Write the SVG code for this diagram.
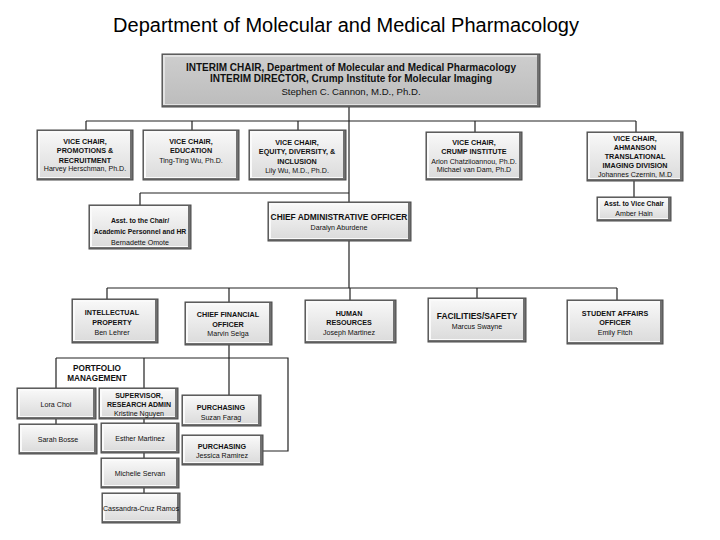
<svg xmlns="http://www.w3.org/2000/svg" width="720" height="540" viewBox="0 0 720 540">
<defs>
<linearGradient id="face" x1="0" y1="0" x2="0" y2="1"><stop offset="0" stop-color="#f7f7f7"/><stop offset="1" stop-color="#dcdcdc"/></linearGradient>
<linearGradient id="faceTop" x1="0" y1="0" x2="0" y2="1"><stop offset="0" stop-color="#cdcdcd"/><stop offset="1" stop-color="#bdbdbd"/></linearGradient>
<style>
.sh{fill:#707070;stroke:#4a4a4a;stroke-width:1}
.hl{fill:#fafafa}
.hlT{fill:#e2e2e2}
.fc{fill:url(#face)}
.fcT{fill:url(#faceTop)}
.ln{fill:none;stroke:#222;stroke-width:1.2}
text{font-family:"Liberation Sans",Arial,sans-serif;fill:#111;text-anchor:middle}
.b{font-weight:bold;font-size:7.2px}
.r{font-size:7.1px}
.tb{font-weight:bold;font-size:10px}
.tr{font-size:9.6px}
</style>
</defs>
<rect width="720" height="540" fill="#fff"/>
<text x="346" y="32" style="font-size:20px;fill:#000">Department of Molecular and Medical Pharmacology</text>

<g id="connectors">
<path class="ln" d="M349 107V203M86 121H636M86 121V131M192 121V131M298 121V131M475 121V132M636 121V132"/>
<path class="ln" d="M634 180V197"/>
<path class="ln" d="M140 193H349M140 193V205"/>
<path class="ln" d="M349 240V288M107 288H617M107 288V299M229 288V302M350 288V300M477 288V298M617 288V300"/>
<path class="ln" d="M229 345V395M56 358H288V451H263M56 358V388M56 419V424M144 358V388M144 419V423M144 453V458M144 488V493"/>
</g>

<g id="top">
<rect class="sh" x="162" y="54" width="378" height="53"/><rect class="hlT" x="163" y="55" width="374" height="50"/><rect class="fcT" x="165" y="57" width="372" height="47"/>
<text class="tb" x="351" y="71">INTERIM CHAIR,  Department of Molecular and Medical Pharmacology</text>
<text class="tb" x="351" y="82">INTERIM DIRECTOR,  Crump Institute  for Molecular Imaging</text>
<text class="tr" x="351" y="95">Stephen C. Cannon, M.D., Ph.D.</text>
</g>

<g id="vc1">
<rect class="sh" x="37" y="130" width="96" height="50"/><rect class="hl" x="38" y="131" width="92" height="47"/><rect class="fc" x="40" y="133" width="90" height="44"/>
<text class="b" x="85" y="144">VICE CHAIR,</text><text class="b" x="85" y="153">PROMOTIONS &amp;</text><text class="b" x="85" y="163">RECRUITMENT</text><text class="r" x="85" y="171">Harvey Herschman, Ph.D.</text>
</g>
<g id="vc2">
<rect class="sh" x="143" y="130" width="96" height="50"/><rect class="hl" x="144" y="131" width="92" height="47"/><rect class="fc" x="146" y="133" width="90" height="44"/>
<text class="b" x="191" y="144">VICE CHAIR,</text><text class="b" x="191" y="153">EDUCATION</text><text class="r" x="191" y="163">Ting-Ting  Wu, Ph.D.</text>
</g>
<g id="vc3">
<rect class="sh" x="249" y="130" width="97" height="50"/><rect class="hl" x="250" y="131" width="93" height="47"/><rect class="fc" x="252" y="133" width="91" height="44"/>
<text class="b" x="297" y="145">VICE CHAIR,</text><text class="b" x="297" y="154">EQUITY,  DIVERSITY, &amp;</text><text class="b" x="297" y="164">INCLUSION</text><text class="r" x="297" y="173">Lily Wu, M.D., Ph.D.</text>
</g>
<g id="vc4">
<rect class="sh" x="426" y="132" width="96" height="48"/><rect class="hl" x="427" y="133" width="92" height="45"/><rect class="fc" x="429" y="135" width="90" height="42"/>
<text class="b" x="474" y="145">VICE CHAIR,</text><text class="b" x="474" y="154">CRUMP INSTITUTE</text><text class="r" x="474" y="164">Arion Chatziioannou,  Ph.D.</text><text class="r" x="474" y="172">Michael  van Dam, Ph.D</text>
</g>
<g id="vc5">
<rect class="sh" x="587" y="132" width="96" height="49"/><rect class="hl" x="588" y="133" width="92" height="46"/><rect class="fc" x="590" y="135" width="90" height="43"/>
<text class="b" x="635" y="141">VICE CHAIR,</text><text class="b" x="635" y="150">AHMANSON</text><text class="b" x="635" y="159">TRANSLATIONAL</text><text class="b" x="635" y="168">IMAGING  DIVISION</text><text class="r" x="635" y="177">Johannes Czernin, M.D</text>
</g>
<g id="asstvc">
<rect class="sh" x="597" y="197" width="74" height="24"/><rect class="hl" x="598" y="198" width="70" height="21"/><rect class="fc" x="600" y="200" width="68" height="18"/>
<text class="b" x="634" y="206" style="font-size:6.8px">Asst. to Vice Chair</text><text class="r" x="634" y="216">Amber Hain</text>
</g>

<g id="asstchair">
<rect class="sh" x="89" y="205" width="102" height="44"/><rect class="hl" x="90" y="206" width="98" height="41"/><rect class="fc" x="92" y="208" width="96" height="38"/>
<text class="b" x="140" y="223" style="font-size:6.8px">Asst.  to the Chair/</text><text class="b" x="140" y="234" style="font-size:6.8px">Academic  Personnel and HR</text><text class="r" x="140" y="245">Bernadette Omote</text>
</g>
<g id="cao">
<rect class="sh" x="268" y="202" width="143" height="39"/><rect class="hl" x="269" y="203" width="139" height="36"/><rect class="fc" x="271" y="205" width="137" height="33"/>
<text class="b" x="339" y="220" style="font-size:8.4px">CHIEF  ADMINISTRATIVE OFFICER</text><text class="r" x="339" y="230">Daralyn Aburdene</text>
</g>

<g id="ip">
<rect class="sh" x="72" y="299" width="86" height="44"/><rect class="hl" x="73" y="300" width="82" height="41"/><rect class="fc" x="75" y="302" width="80" height="38"/>
<text class="b" x="112" y="315">INTELLECTUAL</text><text class="b" x="112" y="325">PROPERTY</text><text class="r" x="112" y="335">Ben Lehrer</text>
</g>
<g id="cfo">
<rect class="sh" x="185" y="302" width="87" height="43"/><rect class="hl" x="186" y="303" width="83" height="40"/><rect class="fc" x="188" y="305" width="81" height="37"/>
<text class="b" x="228" y="317">CHIEF FINANCIAL</text><text class="b" x="228" y="327">OFFICER</text><text class="r" x="228" y="336">Marvin Selga</text>
</g>
<g id="hr">
<rect class="sh" x="305" y="300" width="91" height="43"/><rect class="hl" x="306" y="301" width="87" height="40"/><rect class="fc" x="308" y="303" width="85" height="37"/>
<text class="b" x="349" y="316">HUMAN</text><text class="b" x="349" y="325">RESOURCES</text><text class="r" x="349" y="335">Joseph Martinez</text>
</g>
<g id="fs">
<rect class="sh" x="428" y="298" width="98" height="44"/><rect class="hl" x="429" y="299" width="94" height="41"/><rect class="fc" x="431" y="301" width="92" height="38"/>
<text class="b" x="477" y="319" style="font-size:8.4px">FACILITIES/SAFETY</text><text class="r" x="477" y="329">Marcus Swayne</text>
</g>
<g id="sao">
<rect class="sh" x="567" y="300" width="96" height="44"/><rect class="hl" x="568" y="301" width="92" height="41"/><rect class="fc" x="570" y="303" width="90" height="38"/>
<text class="b" x="615" y="316">STUDENT  AFFAIRS</text><text class="b" x="615" y="325">OFFICER</text><text class="r" x="615" y="335">Emily Fitch</text>
</g>

<g id="portfolio">
<text class="b" x="97" y="371" style="font-size:8.2px">PORTFOLIO</text><text class="b" x="97" y="381" style="font-size:8.2px">MANAGEMENT</text>
</g>
<g id="lora">
<rect class="sh" x="17" y="388" width="79" height="31"/><rect class="hl" x="18" y="389" width="75" height="28"/><rect class="fc" x="20" y="391" width="73" height="25"/>
<text class="r" x="56" y="407">Lora Choi</text>
</g>
<g id="sarah">
<rect class="sh" x="19" y="424" width="78" height="30"/><rect class="hl" x="20" y="425" width="74" height="27"/><rect class="fc" x="22" y="427" width="72" height="24"/>
<text class="r" x="58" y="442">Sarah Bosse</text>
</g>
<g id="supervisor">
<rect class="sh" x="99" y="388" width="79" height="31"/><rect class="hl" x="100" y="389" width="75" height="28"/><rect class="fc" x="102" y="391" width="73" height="25"/>
<text class="b" x="139" y="398" style="font-size:7px">SUPERVISOR,</text><text class="b" x="139" y="407" style="font-size:7px">RESEARCH ADMIN</text><text class="r" x="139" y="415.5">Kristine Nguyen</text>
</g>
<g id="esther">
<rect class="sh" x="101" y="423" width="78" height="30"/><rect class="hl" x="102" y="424" width="74" height="27"/><rect class="fc" x="104" y="426" width="72" height="24"/>
<text class="r" x="140" y="441">Esther Martinez</text>
</g>
<g id="michelle">
<rect class="sh" x="101" y="458" width="78" height="30"/><rect class="hl" x="102" y="459" width="74" height="27"/><rect class="fc" x="104" y="461" width="72" height="24"/>
<text class="r" x="140" y="476">Michelle  Servan</text>
</g>
<g id="cassandra">
<rect class="sh" x="102" y="493" width="78" height="30"/><rect class="hl" x="103" y="494" width="74" height="27"/><rect class="fc" x="105" y="496" width="72" height="24"/>
<text class="r" x="141" y="511">Cassandra-Cruz Ramos</text>
</g>
<g id="purchasing1">
<rect class="sh" x="182" y="395" width="79" height="31"/><rect class="hl" x="183" y="396" width="75" height="28"/><rect class="fc" x="185" y="398" width="73" height="25"/>
<text class="b" x="221" y="410">PURCHASING</text><text class="r" x="221" y="420">Suzan  Farag</text>
</g>
<g id="purchasing2">
<rect class="sh" x="182" y="435" width="81" height="30"/><rect class="hl" x="183" y="436" width="77" height="27"/><rect class="fc" x="185" y="438" width="75" height="24"/>
<text class="b" x="222" y="449">PURCHASING</text><text class="r" x="222" y="458">Jessica Ramirez</text>
</g>
</svg>
